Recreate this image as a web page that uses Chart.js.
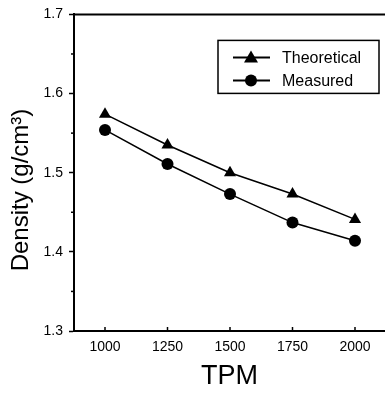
<!DOCTYPE html>
<html>
<head>
<meta charset="utf-8">
<script src="https://cdn.jsdelivr.net/npm/chart.js@4.4.1/dist/chart.umd.min.js"></script>
<style>
html,body{margin:0;padding:0;background:#fff;}
#wrap{width:385px;height:395px;position:relative;}
</style>
</head>
<body>
<div id="wrap"><canvas id="c" width="385" height="395"></canvas></div>
<script>
const tpm = [1000, 1250, 1500, 1750, 2000];
const theoretical = [1.574, 1.535, 1.500, 1.473, 1.441];
const measured = [1.554, 1.511, 1.473, 1.437, 1.414];
const xTicks = [1000, 1250, 1500, 1750, 2000];
const yTicks = [1.3, 1.4, 1.5, 1.6, 1.7];
const yMinorTicks = [1.35, 1.45, 1.55, 1.65];
const seriesNames = ['Theoretical', 'Measured'];
const yTitle = 'Density (g/cm³)';
const xTitle = 'TPM';

const FONT = "'Liberation Sans', Arial, Helvetica, sans-serif";

const decor = {
  id: 'decor',
  afterDraw(chart) {
    const ctx = chart.ctx;
    const a = chart.chartArea;
    const ys = chart.scales.y, xs = chart.scales.x;
    ctx.save();
    ctx.strokeStyle = '#000';
    // top border
    ctx.lineWidth = 2;
    ctx.beginPath();
    ctx.moveTo(a.left, a.top);
    ctx.lineTo(chart.width, a.top);
    ctx.stroke();
    // minor y ticks (outward)
    ctx.lineWidth = 1.5;
    yMinorTicks.forEach(v => {
      const p = ys.getPixelForValue(v);
      ctx.beginPath();
      ctx.moveTo(a.left - 3, p);
      ctx.lineTo(a.left, p);
      ctx.stroke();
    });
    // x ticks inward
    xTicks.forEach(v => {
      const p = xs.getPixelForValue(v);
      ctx.beginPath();
      ctx.moveTo(p, a.bottom);
      ctx.lineTo(p, a.bottom - 4);
      ctx.stroke();
    });
    // y title
    ctx.fillStyle = '#000';
    ctx.font = '24px ' + FONT;
    ctx.textAlign = 'center';
    ctx.textBaseline = 'middle';
    ctx.translate(21, 190);
    ctx.rotate(-Math.PI / 2);
    ctx.fillText(yTitle, 0, 0);
    ctx.restore();

    // legend
    ctx.save();
    const bx = a.right - 167, by = a.top + 26, bw = 161, bh = 53;
    ctx.lineWidth = 1.5;
    ctx.strokeStyle = '#000';
    ctx.strokeRect(bx, by, bw, bh);
    ctx.font = '16px ' + FONT;
    ctx.fillStyle = '#000';
    ctx.textAlign = 'left';
    ctx.textBaseline = 'middle';
    chart.data.datasets.forEach((ds, i) => {
      const cy = by + 17 + i * 23;
      ctx.lineWidth = 2;
      ctx.beginPath();
      ctx.moveTo(bx + 15, cy);
      ctx.lineTo(bx + 52, cy);
      ctx.stroke();
      const mx = bx + 33;
      ctx.beginPath();
      if (ds.pointStyle === 'triangle') {
        ctx.moveTo(mx, cy - 7);
        ctx.lineTo(mx + 7, cy + 5);
        ctx.lineTo(mx - 7, cy + 5);
        ctx.closePath();
      } else {
        ctx.arc(mx, cy, 6, 0, Math.PI * 2);
      }
      ctx.fill();
      ctx.fillText(ds.label, bx + 64, cy + 1);
    });
    ctx.restore();
  }
};

new Chart(document.getElementById('c'), {
  type: 'line',
  data: {
    datasets: [
      {
        label: seriesNames[0],
        data: tpm.map((x, i) => ({x: x, y: theoretical[i]})),
        borderColor: '#000', backgroundColor: '#000', borderWidth: 1.5,
        pointStyle: 'triangle', pointRadius: 7, pointBorderWidth: 0,
        pointBackgroundColor: '#000', tension: 0
      },
      {
        label: seriesNames[1],
        data: tpm.map((x, i) => ({x: x, y: measured[i]})),
        borderColor: '#000', backgroundColor: '#000', borderWidth: 1.5,
        pointStyle: 'circle', pointRadius: 6, pointBorderWidth: 0,
        pointBackgroundColor: '#000', tension: 0
      }
    ]
  },
  options: {
    responsive: false,
    animation: false,
    devicePixelRatio: 1,
    layout: {padding: {top: 13, right: 0, left: 0, bottom: 0}, autoPadding: false},
    plugins: {legend: {display: false}, tooltip: {enabled: false}},
    scales: {
      x: {
        type: 'linear', min: 876, max: 2120,
        afterFit: s => { s.height = 64; },
        afterBuildTicks: s => { s.ticks = xTicks.map(v => ({value: v})); },
        grid: {display: true, drawOnChartArea: false, drawTicks: false},
        border: {color: '#000', width: 2},
        ticks: {color: '#000', font: {family: FONT, size: 14}, padding: 8, maxRotation: 0, autoSkip: false,
                callback: v => String(v)},
        title: {display: true, text: xTitle, color: '#000', font: {family: FONT, size: 27}, padding: {top: 0, bottom: 2}}
      },
      y: {
        type: 'linear', min: 1.3, max: 1.7,
        afterFit: s => { s.width = 74; },
        afterBuildTicks: s => { s.ticks = yTicks.map(v => ({value: v})); },
        grid: {display: true, drawOnChartArea: false, drawTicks: true, tickLength: 5, color: '#000', tickWidth: 1.5},
        border: {color: '#000', width: 2},
        ticks: {color: '#000', font: {family: FONT, size: 14}, padding: 6, callback: v => v.toFixed(1)}
      }
    }
  },
  plugins: [decor]
});
</script>
</body>
</html>
